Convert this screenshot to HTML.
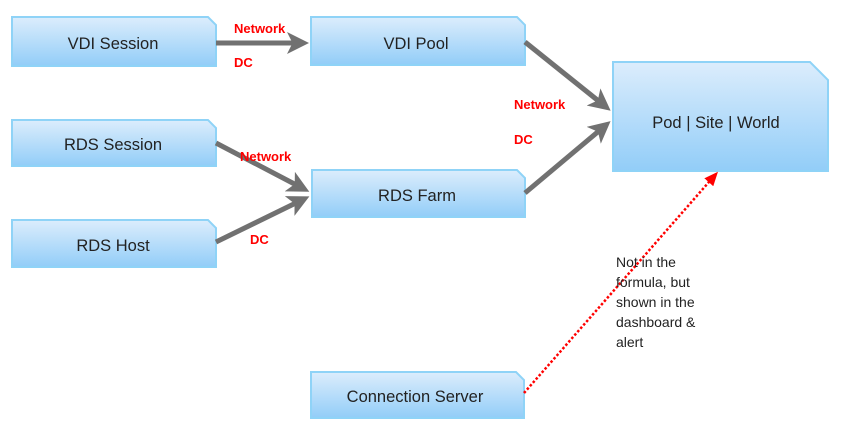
<!DOCTYPE html>
<html><head><meta charset="utf-8"><style>
html,body{margin:0;padding:0;background:#fff;}
svg{display:block;font-family:"Liberation Sans",sans-serif;}
</style></head><body>
<svg width="844" height="434" viewBox="0 0 844 434" xmlns="http://www.w3.org/2000/svg">
<defs>
<linearGradient id="g" x1="0" y1="0" x2="0" y2="1">
<stop offset="0" stop-color="#dcedfc"/><stop offset="1" stop-color="#92cdf8"/>
</linearGradient>
<marker id="ah" markerWidth="4.4" markerHeight="4.4" refX="3.2" refY="2.2" orient="auto" markerUnits="strokeWidth">
<path d="M0,0 L4.4,2.2 L0,4.4 L1.1,2.2 z" fill="#717171"/>
</marker>
<marker id="rh" markerWidth="14" markerHeight="12" refX="11" refY="6" orient="auto" markerUnits="userSpaceOnUse">
<path d="M0,0 L14,6 L0,12 z" fill="#ff0000"/>
</marker>
</defs>
<g stroke="#8fd3f7" stroke-width="2" fill="url(#g)">
<path d="M12,17 H208 L216,25 V66 H12 Z"/>
<path d="M311,17 H517 L525,25 V65 H311 Z"/>
<path d="M12,120 H208 L216,128 V166 H12 Z"/>
<path d="M312,170 H517 L525,178 V217 H312 Z"/>
<path d="M12,220 H208 L216,228 V267 H12 Z"/>
<path d="M311,372 H516 L524,380 V418 H311 Z"/>
<path d="M613,62 H810 L828,80 V171 H613 Z"/>
</g>
<g fill="#222" font-size="16.5" text-anchor="middle">
<text x="113" y="49">VDI Session</text>
<text x="416" y="49">VDI Pool</text>
<text x="113" y="150">RDS Session</text>
<text x="417" y="201">RDS Farm</text>
<text x="113" y="251">RDS Host</text>
<text x="415" y="402">Connection Server</text>
<text x="716" y="128">Pod | Site | World</text>
</g>
<g stroke="#717171" stroke-width="5" fill="none" marker-end="url(#ah)">
<line x1="216" y1="43" x2="303" y2="43"/>
<line x1="216" y1="143" x2="304" y2="189"/>
<line x1="216" y1="242" x2="304" y2="199"/>
<line x1="525" y1="42" x2="606" y2="107"/>
<line x1="525" y1="193" x2="606" y2="125"/>
</g>
<line x1="524" y1="393" x2="716" y2="174" stroke="#ff0000" stroke-width="2.5" stroke-dasharray="2.5,2" marker-end="url(#rh)"/>
<g fill="#ff0000" font-weight="bold" font-size="13">
<text x="234" y="33">Network</text>
<text x="234" y="67">DC</text>
<text x="240" y="161">Network</text>
<text x="250" y="244">DC</text>
<text x="514" y="109">Network</text>
<text x="514" y="144">DC</text>
</g>
<g fill="#222" font-size="14">
<text x="616" y="267">Not in the</text>
<text x="616" y="287">formula, but</text>
<text x="616" y="307">shown in the</text>
<text x="616" y="327">dashboard &amp;</text>
<text x="616" y="347">alert</text>
</g>
</svg>
</body></html>
